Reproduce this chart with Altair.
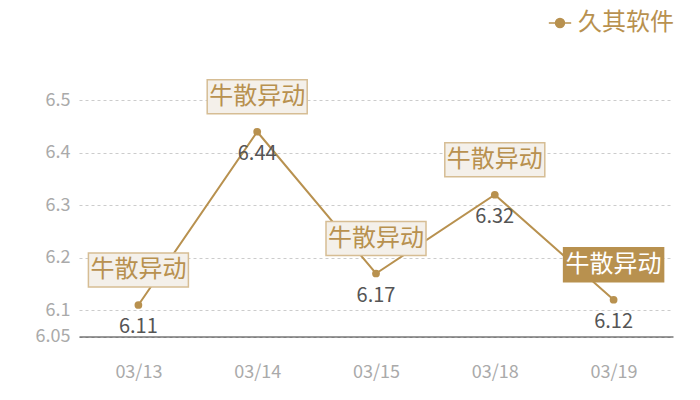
import altair as alt
import pandas as pd

dates = ["03/13", "03/14", "03/15", "03/18", "03/19"]
prices = [6.11, 6.44, 6.17, 6.32, 6.12]
series_name = "久其软件"
tags = ["牛散异动", "牛散异动", "牛散异动", "牛散异动", "牛散异动"]
highlight = [False, False, False, False, True]
y_ticks = [6.05, 6.1, 6.2, 6.3, 6.4, 6.5]

GOLD = "#b8914f"
FONT = "Noto Sans CJK SC"

df = pd.DataFrame({"date": dates, "price": prices, "series": series_name,
                   "tag": tags, "hl": highlight})

x = alt.X("date:N", sort=dates, scale=alt.Scale(type="point", padding=0.5),
          axis=alt.Axis(title=None, labelAngle=0, domain=True, domainColor="#333333",
                        domainWidth=1, ticks=False, labelColor="#aaaaaa",
                        labelFontSize=18, labelPadding=27, labelFont=FONT, grid=False))
y = alt.Y("price:Q", scale=alt.Scale(domain=[6.05, 6.55], nice=False, zero=False),
          axis=alt.Axis(title=None, values=y_ticks, domain=False, ticks=False,
                        labelColor="#aaaaaa", labelFontSize=18, labelPadding=9,
                        labelFont=FONT, grid=True, gridDash=[3, 3],
                        gridColor="#cccccc", gridWidth=1, format=".2~f"))

base = alt.Chart(df).encode(x=x, y=y)

line = base.mark_line(strokeWidth=2, color=GOLD).encode(
    color=alt.Color("series:N", scale=alt.Scale(range=[GOLD]),
                    legend=alt.Legend(title=None, orient="none", legendX=469, legendY=-63,
                                      symbolType="M-1,0H-0.4M0.4,0H1M0.4,0A0.4,0.4,0,1,1,-0.4,0A0.4,0.4,0,1,1,0.4,0",
                                      symbolSize=500, symbolStrokeWidth=1.5,
                                      symbolFillColor=GOLD, labelColor=GOLD,
                                      labelFontSize=24, labelFont=FONT, labelOffset=6,
                                      labelLimit=300))
)
pts = base.mark_circle(size=60, color=GOLD, opacity=1)

vals = base.mark_text(dy=22, fontSize=20, color="#555555", font=FONT).encode(
    text=alt.Text("price:Q", format=".2f"))

box_shape = "M-1,-0.34L1,-0.34L1,0.34L-1,0.34Z"
boxes = base.mark_point(shape=box_shape, size=10000, filled=False, yOffset=-35,
                        strokeWidth=1.5, opacity=1).encode(
    fill=alt.condition("datum.hl", alt.value(GOLD), alt.value("#f4f0ea")),
    stroke=alt.condition("datum.hl", alt.value(GOLD), alt.value("#d6bd94")),
)
tag_text = base.mark_text(dy=-35, fontSize=24, font=FONT, baseline="middle").encode(
    text="tag:N",
    color=alt.condition("datum.hl", alt.value("#ffffff"), alt.value(GOLD)),
)

chart = alt.layer(line, pts, vals, boxes, tag_text).properties(
    width=594, height=262.5,
    background="#ffffff",
    autosize=alt.AutoSizeParams(type="none"),
    padding={"left": 71, "top": 66, "right": 19, "bottom": 56},
).configure_view(strokeWidth=0, stroke=None)

chart.save("out.html", embed_options={"renderer": "svg", "actions": False})
